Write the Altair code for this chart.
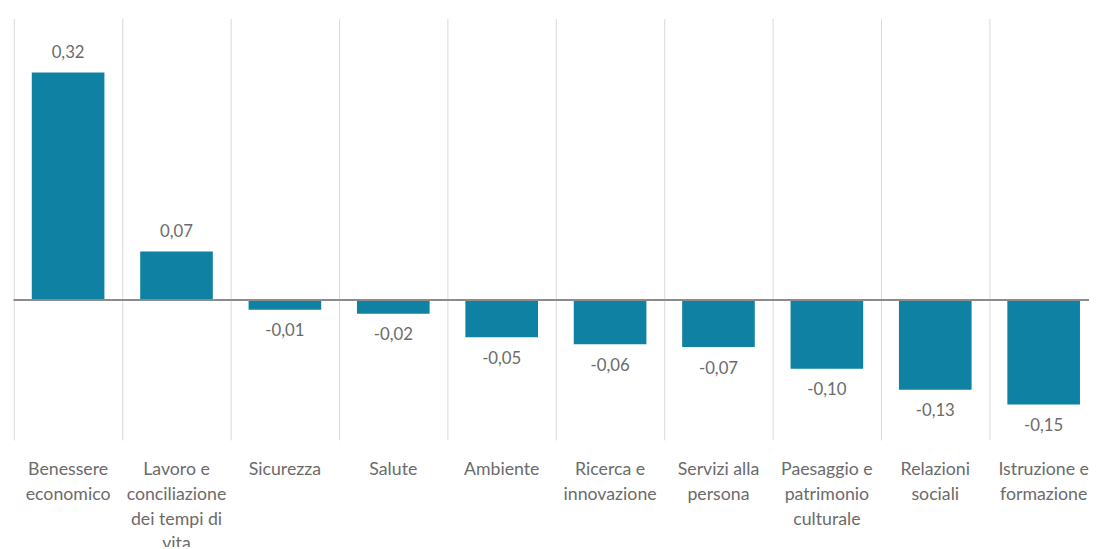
import altair as alt
import pandas as pd

categories = [
    "Benessere|economico",
    "Lavoro e|conciliazione|dei tempi di|vita",
    "Sicurezza",
    "Salute",
    "Ambiente",
    "Ricerca e|innovazione",
    "Servizi alla|persona",
    "Paesaggio e|patrimonio|culturale",
    "Relazioni|sociali",
    "Istruzione e|formazione",
]
values = [0.324, 0.069, -0.014, -0.0196, -0.053, -0.063, -0.067, -0.098, -0.128, -0.149]
value_labels = ["0,32", "0,07", "-0,01", "-0,02", "-0,05", "-0,06", "-0,07", "-0,10", "-0,13", "-0,15"]

df = pd.DataFrame({"cat": categories, "val": values, "lab": value_labels})

FONT = "Lato"
TEXT_COLOR = "#6b6b6b"
BAR_COLOR = "#0f81a3"
PLOT_W = 1092
CLIP = 9
STEP = PLOT_W / len(categories)

x = alt.X(
    "cat:N",
    sort=categories,
    title=None,
    scale=alt.Scale(paddingInner=0.33, paddingOuter=0.165),
    axis=alt.Axis(
        grid=False,
        domain=False,
        ticks=False,
        labelAngle=0,
        labelExpr="split(datum.label, '|')",
        labelFont=FONT,
        labelFontSize=18,
        labelLineHeight=25,
        labelColor=TEXT_COLOR,
        labelPadding=21,
        labelBaseline="top",
        labelAlign="center",
        labelLimit=0,
    ),
)
yscale = alt.Scale(domain=[-0.2, 0.4], nice=False, zero=True)
y = alt.Y("val:Q", title=None, axis=None, scale=yscale)

base = alt.Chart(df)

grid = base.mark_rule(color="#d9d9d9", strokeWidth=1, xOffset=-STEP / 2).encode(x=x)

bars = base.mark_bar(color=BAR_COLOR).encode(x=x, y=y, y2=alt.datum(0))

pos_text = base.transform_filter("datum.val >= 0").mark_text(
    font=FONT, fontSize=17, color=TEXT_COLOR, baseline="middle", dy=-20
).encode(x=x, y=y, text="lab:N")

neg_text = base.transform_filter("datum.val < 0").mark_text(
    font=FONT, fontSize=17, color=TEXT_COLOR, baseline="middle", dy=22
).encode(x=x, y=y, text="lab:N")

zero = base.mark_rule(color="#8c8c8c", strokeWidth=1.4).encode(
    y=alt.YDatum(0, axis=None, scale=yscale),
)

chart = (
    alt.layer(grid, bars, zero, pos_text, neg_text)
    .properties(
        width=PLOT_W + CLIP,
        height=428,
        autosize=alt.AutoSizeParams(type="none"),
        padding={"left": 6, "top": 7, "right": -CLIP, "bottom": 104},
    )
    .configure_view(strokeWidth=0)
)

chart.save("out.html", embed_options={"renderer": "svg", "actions": False})
